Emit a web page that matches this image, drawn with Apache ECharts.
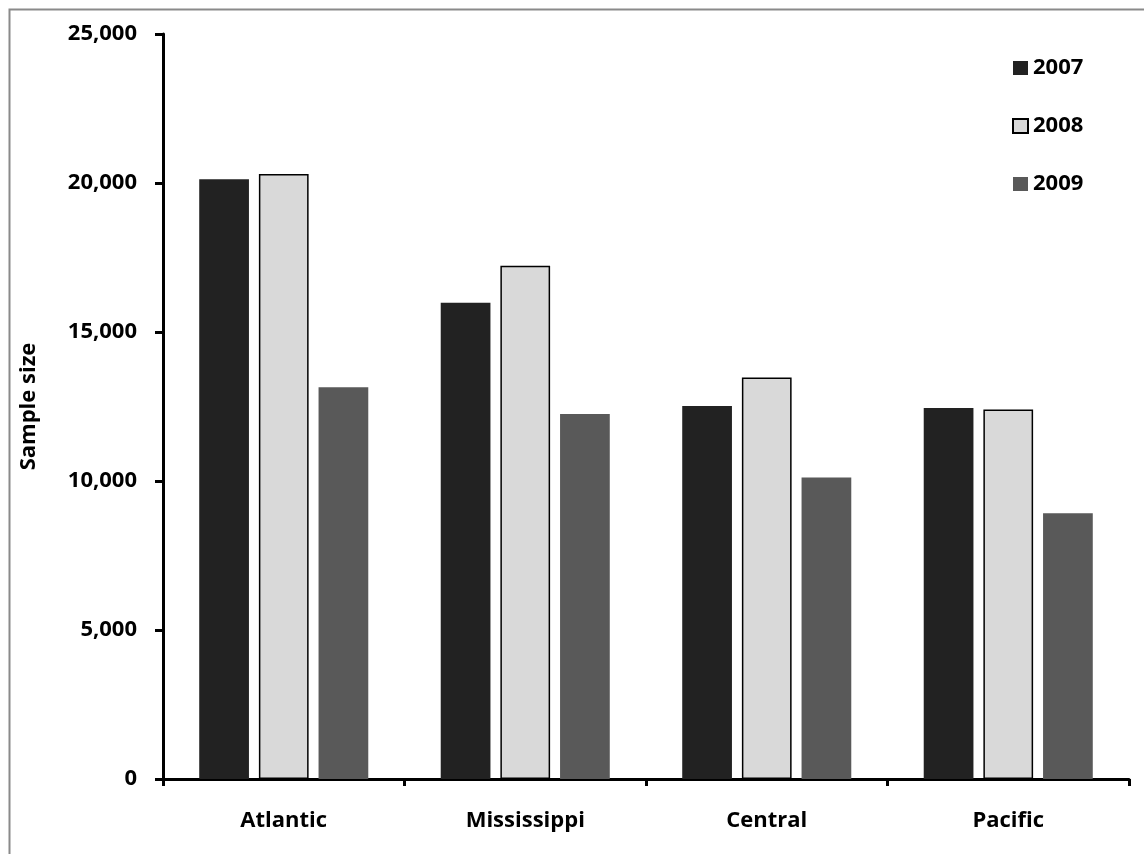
<!DOCTYPE html>
<html>
<head>
<meta charset="utf-8">
<script src="https://cdn.jsdelivr.net/npm/echarts@6/dist/echarts.min.js"></script>
<style>
  html, body { margin: 0; padding: 0; background: #fff; }
  #chart { width: 1144px; height: 854px; }
</style>
</head>
<body>
<div id="chart"></div>
<script>
const categories = ['Atlantic', 'Mississippi', 'Central', 'Pacific'];
const seriesNames = ['2007', '2008', '2009'];
const values2007 = [20130, 15980, 12520, 12450];
const values2008 = [20300, 17220, 13470, 12400];
const values2009 = [13150, 12250, 10120, 8920];
const yTicks = { min: 0, max: 25000, interval: 5000 };

const FONT = '"Open Sans", "DejaVu Sans", sans-serif';
const chart = echarts.init(document.getElementById('chart'), null, { renderer: 'canvas' });

chart.setOption({
  backgroundColor: '#ffffff',
  animation: false,
  graphic: [{
    type: 'rect',
    left: 7, top: 7,
    shape: { x: 0, y: 0, width: 1300, height: 1000 },
    style: { fill: 'none', stroke: '#8a8a8a', lineWidth: 2 },
    silent: true, z: -1
  }],
  legend: {
    orient: 'vertical',
    left: 1007,
    top: 52,
    icon: 'rect',
    itemWidth: 15,
    itemHeight: 14,
    itemGap: 36,
    textStyle: { fontFamily: FONT, fontWeight: 'bold', fontSize: 22, color: '#000' },
    data: seriesNames
  },
  grid: { left: 163, right: 15, top: 34, bottom: 75, containLabel: false },
  xAxis: {
    type: 'category',
    data: categories,
    axisLine: { lineStyle: { color: '#000', width: 3 } },
    axisTick: { show: true, length: 7, lineStyle: { color: '#000', width: 3 } },
    axisLabel: { margin: 31, fontFamily: FONT, fontWeight: 'bold', fontSize: 22, color: '#000' }
  },
  yAxis: {
    type: 'value',
    min: yTicks.min, max: yTicks.max, interval: yTicks.interval,
    name: 'Sample size',
    nameLocation: 'middle',
    nameGap: 123,
    nameTextStyle: { fontFamily: FONT, fontWeight: 'bold', fontSize: 22, color: '#000' },
    axisLine: { show: true, lineStyle: { color: '#000', width: 3 } },
    axisTick: { show: true, length: 8, lineStyle: { color: '#000', width: 3 } },
    splitLine: { show: false },
    axisLabel: {
      margin: 26, fontFamily: FONT, fontWeight: 'bold', fontSize: 22, color: '#000',
      formatter: v => Number(v).toLocaleString('en-US')
    }
  },
  series: [
    { name: seriesNames[0], type: 'bar', data: values2007, barGap: '20%', barCategoryGap: '30%',
      itemStyle: { color: '#222222' } },
    { name: seriesNames[1], type: 'bar', data: values2008, barGap: '20%', barCategoryGap: '30%',
      itemStyle: { color: '#d9d9d9', borderColor: '#000', borderWidth: 1.5 } },
    { name: seriesNames[2], type: 'bar', data: values2009, barGap: '20%', barCategoryGap: '30%',
      itemStyle: { color: '#595959' } }
  ]
});
</script>
</body>
</html>
